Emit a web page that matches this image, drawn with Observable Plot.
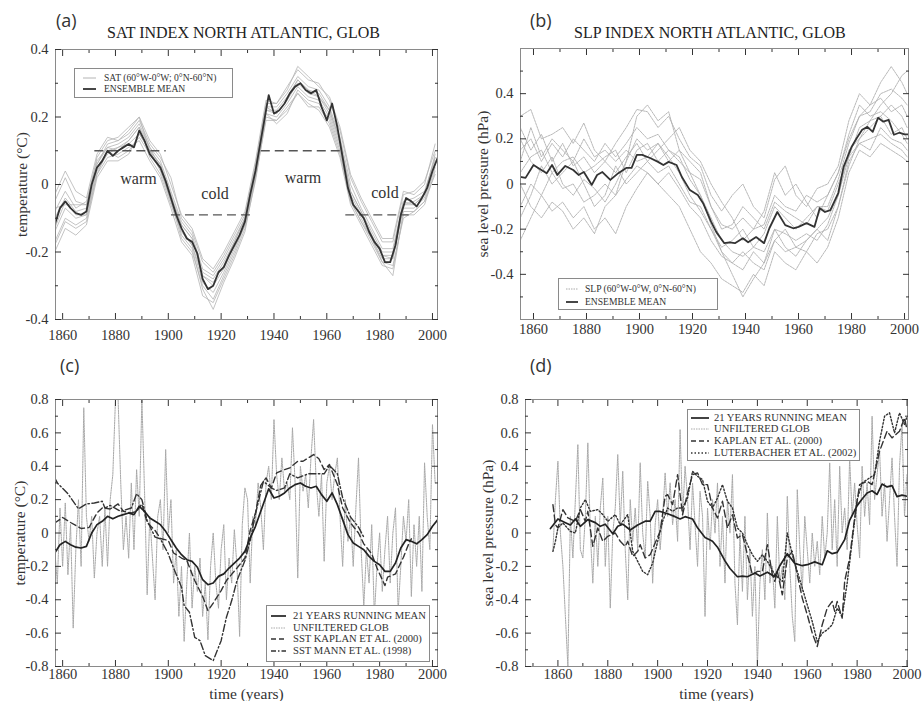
<!DOCTYPE html>
<html><head><meta charset="utf-8">
<script src="https://cdn.jsdelivr.net/npm/d3@7"></script>
<script src="https://cdn.jsdelivr.net/npm/@observablehq/plot@0.6"></script>
<style>
body{margin:0;background:#fff;}
#root{position:relative;width:924px;height:701px;overflow:hidden;font-family:"Liberation Serif","Times New Roman",serif;color:#222;background:#fff;}
.letter{position:absolute;font-family:"Open Sans","DejaVu Sans",sans-serif;font-size:18px;color:#333;line-height:1;}
.title{position:absolute;font-size:16px;line-height:1;white-space:nowrap;color:#222;}
.legend{position:absolute;border:1px solid #8a8a8a;background:#fff;box-sizing:border-box;}
.legend .row{position:absolute;left:0;height:12px;white-space:nowrap;line-height:12px;color:#333;}
.legend svg{position:absolute;top:0;}
.legend span{position:absolute;top:0;}
svg text{font-family:"Liberation Serif","Times New Roman",serif;}
</style></head><body><div id="root"></div>
<script>
// ---------------- DATA ----------------
const xMajorTicks = [1860, 1880, 1900, 1920, 1940, 1960, 1980, 2000];
const xMinorTicks = [1870, 1890, 1910, 1930, 1950, 1970, 1990];
const xMinorTicksD = [1850, 1870, 1890, 1910, 1930, 1950, 1970, 1990];
const yMajorA = [-0.4, -0.2, 0, 0.2, 0.4];
const yMinorA = [-0.3, -0.1, 0.1, 0.3];
const yMajorB = [-0.4, -0.2, 0, 0.2, 0.4];
const yMinorB = [-0.5, -0.3, -0.1, 0.1, 0.3, 0.5];
const yMajorCD = [-0.8, -0.6, -0.4, -0.2, 0, 0.2, 0.4, 0.6, 0.8];
const yMinorCD = [-0.7, -0.5, -0.3, -0.1, 0.1, 0.3, 0.5, 0.7];

// (a) SAT ensemble mean (= 21-year running mean in (c))
const meanAYears = [1857,1859,1861,1863,1865,1867,1869,1871,1873,1875,1877,1879,1881,1883,1885,1887,1889,1891,1893,1895,1897,1899,1901,1903,1905,1907,1909,1911,1913,1915,1917,1919,1921,1923,1925,1927,1929,1931,1933,1935,1937,1938,1940,1942,1944,1946,1948,1950,1952,1954,1956,1958,1960,1962,1964,1966,1968,1970,1972,1974,1976,1978,1980,1982,1984,1986,1988,1990,1992,1994,1996,1998,2000,2002];
const meanAValues = [-0.12,-0.07,-0.05,-0.07,-0.085,-0.09,-0.08,0.0,0.05,0.07,0.10,0.085,0.10,0.11,0.12,0.11,0.16,0.13,0.09,0.07,0.05,0.01,-0.04,-0.09,-0.13,-0.16,-0.17,-0.205,-0.28,-0.31,-0.30,-0.26,-0.245,-0.21,-0.18,-0.15,-0.11,-0.03,0.04,0.13,0.22,0.265,0.21,0.22,0.24,0.27,0.29,0.30,0.28,0.27,0.28,0.23,0.19,0.24,0.17,0.08,-0.01,-0.06,-0.08,-0.10,-0.14,-0.17,-0.19,-0.23,-0.23,-0.18,-0.09,-0.04,-0.05,-0.065,-0.04,-0.01,0.04,0.08];

// (a) SAT ensemble members (every 4 years)
const memberAYears = [1857,1861,1865,1869,1873,1877,1881,1885,1889,1893,1897,1901,1905,1909,1913,1917,1921,1925,1929,1933,1937,1941,1945,1949,1953,1957,1961,1965,1969,1973,1977,1981,1985,1989,1993,1997,2001];
const memberA1 = [-0.17,-0.10,-0.12,-0.10,0.03,0.08,0.09,0.11,0.13,0.07,0.02,-0.07,-0.17,-0.21,-0.33,-0.35,-0.28,-0.21,-0.13,0.01,0.20,0.19,0.22,0.27,0.24,0.22,0.17,0.08,-0.06,-0.12,-0.18,-0.24,-0.25,-0.09,-0.09,-0.06,0.04];
const memberA2 = [-0.05,0.02,-0.05,-0.06,0.08,0.13,0.14,0.17,0.20,0.13,0.09,0.00,-0.09,-0.13,-0.22,-0.25,-0.20,-0.14,-0.08,0.07,0.25,0.24,0.29,0.34,0.31,0.30,0.25,0.16,0.02,-0.05,-0.11,-0.17,-0.17,-0.03,-0.02,0.01,0.10];
const memberA3 = [-0.20,-0.13,-0.15,-0.12,0.02,0.07,0.07,0.09,0.15,0.10,0.06,-0.03,-0.15,-0.19,-0.31,-0.37,-0.29,-0.22,-0.14,0.02,0.21,0.18,0.21,0.28,0.25,0.24,0.19,0.10,-0.05,-0.11,-0.16,-0.23,-0.27,-0.08,-0.08,-0.05,0.05];
const memberA4 = [-0.08,-0.02,-0.07,-0.05,0.07,0.11,0.12,0.14,0.18,0.11,0.07,-0.02,-0.11,-0.15,-0.25,-0.27,-0.22,-0.16,-0.10,0.05,0.23,0.23,0.27,0.32,0.29,0.28,0.23,0.14,0.00,-0.07,-0.13,-0.19,-0.19,-0.05,-0.04,-0.02,0.08];
const memberA5 = [-0.14,-0.07,-0.10,-0.09,0.04,0.09,0.11,0.13,0.17,0.08,0.03,-0.06,-0.14,-0.18,-0.29,-0.32,-0.26,-0.19,-0.12,0.03,0.21,0.20,0.24,0.29,0.26,0.25,0.20,0.11,-0.04,-0.10,-0.16,-0.22,-0.22,-0.07,-0.07,-0.04,0.06];
const memberA6 = [-0.03,0.04,-0.02,-0.04,0.09,0.14,0.13,0.15,0.19,0.12,0.08,0.02,-0.10,-0.14,-0.23,-0.26,-0.21,-0.15,-0.09,0.06,0.24,0.24,0.28,0.35,0.32,0.29,0.26,0.17,0.03,-0.04,-0.10,-0.16,-0.16,-0.02,-0.03,0.00,0.12];
const memberA7 = [-0.18,-0.11,-0.13,-0.11,0.03,0.10,0.08,0.10,0.14,0.09,0.05,-0.05,-0.16,-0.20,-0.30,-0.34,-0.27,-0.20,-0.12,0.02,0.19,0.19,0.23,0.27,0.23,0.23,0.18,0.09,-0.05,-0.11,-0.17,-0.23,-0.24,-0.10,-0.08,-0.05,0.03];
const memberA8 = [-0.10,-0.04,-0.08,-0.07,0.06,0.12,0.13,0.16,0.20,0.10,0.06,-0.03,-0.12,-0.16,-0.26,-0.28,-0.23,-0.17,-0.10,0.05,0.22,0.22,0.26,0.31,0.28,0.27,0.22,0.13,-0.02,-0.08,-0.14,-0.20,-0.20,-0.05,-0.06,-0.03,0.09];
const memberA9 = [-0.13,-0.05,-0.09,-0.09,0.05,0.10,0.11,0.12,0.15,0.10,0.04,-0.05,-0.13,-0.18,-0.27,-0.30,-0.25,-0.18,-0.11,0.04,0.22,0.21,0.25,0.30,0.27,0.26,0.22,0.13,-0.03,-0.09,-0.15,-0.21,-0.21,-0.06,-0.06,-0.03,0.07];
const memberA10 = [-0.07,-0.06,-0.06,-0.06,0.06,0.11,0.10,0.13,0.17,0.11,0.05,-0.04,-0.12,-0.16,-0.27,-0.29,-0.24,-0.17,-0.10,0.04,0.23,0.21,0.25,0.31,0.28,0.26,0.21,0.12,-0.02,-0.08,-0.15,-0.21,-0.22,-0.06,-0.05,-0.03,0.08];

// (a) warm / cold periods
const periodStart = [1872, 1901, 1935, 1967];
const periodEnd = [1899, 1932, 1965, 1991];
const periodLevel = [0.1, -0.09, 0.1, -0.09];
const periodLabel = ["warm", "cold", "warm", "cold"];
const periodLabelYear = [1888.7, 1917.7, 1951, 1982];
const periodLabelValue = [0.018, -0.027, 0.02, -0.024];

// (b) SLP ensemble mean (= 21-year running mean in (d))
const meanBYears = [1855,1857,1860,1863,1865,1867,1869,1872,1875,1877,1879,1882,1884,1886,1889,1892,1895,1897,1899,1901,1904,1907,1909,1911,1914,1916,1919,1922,1924,1927,1929,1932,1934,1936,1939,1941,1944,1947,1949,1952,1955,1958,1960,1963,1966,1968,1970,1972,1975,1977,1980,1982,1984,1986,1988,1990,1992,1994,1996,1998,2000,2002];
const meanBValues = [0.032,0.027,0.084,0.062,0.048,0.084,0.04,0.08,0.062,0.04,0.053,-0.004,0.04,0.053,0.018,0.048,0.071,0.071,0.129,0.129,0.115,0.098,0.084,0.098,0.084,0.031,-0.027,-0.049,-0.085,-0.167,-0.213,-0.262,-0.258,-0.262,-0.24,-0.258,-0.235,-0.262,-0.196,-0.124,-0.182,-0.196,-0.19,-0.173,-0.19,-0.107,-0.124,-0.116,-0.04,0.076,0.164,0.204,0.24,0.253,0.231,0.293,0.276,0.284,0.218,0.227,0.22,0.22];

// (b) SLP ensemble members (every 4 years)
const memberBYears = [1855,1859,1863,1867,1871,1875,1879,1883,1887,1891,1895,1899,1903,1907,1911,1915,1919,1923,1927,1931,1935,1939,1943,1947,1951,1955,1959,1963,1967,1971,1975,1979,1983,1987,1991,1995,1999,2001];
const memberB1 = [0.30,0.33,0.20,0.22,0.25,0.18,0.27,0.15,0.10,0.18,0.25,0.33,0.32,0.25,0.30,0.20,0.12,0.08,-0.05,-0.12,-0.05,0.00,-0.10,-0.15,0.02,0.08,-0.05,-0.10,-0.02,0.00,0.08,0.28,0.40,0.35,0.45,0.52,0.45,0.40];
const memberB2 = [-0.25,-0.15,-0.05,-0.12,-0.08,-0.15,-0.10,-0.20,-0.15,-0.22,-0.10,-0.02,0.05,0.00,-0.05,-0.10,-0.20,-0.30,-0.35,-0.42,-0.45,-0.48,-0.40,-0.45,-0.30,-0.35,-0.38,-0.30,-0.35,-0.28,-0.15,0.05,0.15,0.12,0.18,0.15,0.12,0.10];
const memberB3 = [0.15,0.20,0.10,0.18,0.12,0.20,0.15,0.10,0.18,0.12,0.18,0.25,0.20,0.22,0.15,0.10,0.05,0.02,-0.10,-0.18,-0.20,-0.15,-0.20,-0.18,-0.05,-0.10,-0.12,-0.05,-0.08,-0.05,0.05,0.20,0.30,0.35,0.38,0.32,0.35,0.30];
const memberB4 = [-0.10,0.00,-0.05,0.05,-0.02,0.00,-0.08,-0.05,0.00,-0.05,0.02,0.08,0.05,0.00,0.05,-0.02,-0.10,-0.15,-0.25,-0.32,-0.35,-0.30,-0.35,-0.38,-0.25,-0.30,-0.28,-0.30,-0.22,-0.20,-0.10,0.10,0.18,0.20,0.22,0.18,0.15,0.12];
const memberB5 = [0.05,0.12,0.15,0.05,0.10,0.12,0.05,0.08,0.12,0.15,0.05,0.15,0.18,0.10,0.15,0.12,0.02,-0.05,-0.15,-0.25,-0.30,-0.32,-0.28,-0.22,-0.10,-0.15,-0.20,-0.15,-0.10,-0.12,0.00,0.12,0.25,0.28,0.30,0.35,0.30,0.25];
const memberB6 = [0.20,0.10,0.05,0.12,0.00,-0.05,0.02,-0.02,-0.08,0.00,0.10,0.20,0.15,0.18,0.12,0.05,-0.05,-0.12,-0.20,-0.28,-0.25,-0.20,-0.28,-0.30,-0.20,-0.22,-0.25,-0.22,-0.25,-0.18,-0.05,0.15,0.20,0.25,0.30,0.22,0.25,0.20];
const memberB7 = [-0.15,-0.05,0.08,0.00,0.05,0.10,0.00,-0.10,-0.05,0.08,0.00,0.05,0.10,0.05,0.08,0.00,-0.08,-0.10,-0.20,-0.30,-0.35,-0.38,-0.30,-0.35,-0.25,-0.20,-0.28,-0.25,-0.20,-0.15,-0.05,0.12,0.18,0.15,0.25,0.20,0.18,0.15];
const memberB8 = [0.10,0.25,0.12,0.20,0.15,0.10,0.20,0.12,0.15,0.10,0.15,0.10,0.12,0.18,0.10,0.15,0.10,0.05,-0.10,-0.20,-0.18,-0.10,-0.15,-0.20,-0.08,-0.12,-0.15,-0.18,-0.10,-0.10,0.02,0.18,0.30,0.32,0.40,0.42,0.38,0.35];
const memberB9 = [0.00,-0.10,-0.15,-0.08,-0.12,-0.20,-0.15,-0.22,-0.10,-0.05,0.10,0.30,0.35,0.28,0.32,0.15,0.05,-0.05,-0.18,-0.30,-0.40,-0.50,-0.42,-0.35,-0.20,-0.28,-0.32,-0.25,-0.20,-0.25,-0.10,0.08,0.20,0.28,0.35,0.40,0.48,0.50];
const memberB10 = [0.25,0.15,0.22,0.10,0.18,0.08,0.12,0.05,0.10,0.05,0.12,0.18,0.10,0.15,0.20,0.25,0.15,0.10,0.00,-0.08,-0.15,-0.25,-0.20,-0.12,0.05,-0.05,0.00,-0.08,-0.15,-0.05,0.05,0.22,0.35,0.30,0.32,0.28,0.22,0.18];

// (c) unfiltered GLOB temperature, yearly from 1857
const unfilteredCStart = 1857;
const unfilteredC = [-0.1,-0.3,0.15,-0.2,0.18,-0.25,0.05,-0.57,-0.1,0.2,
 -0.2,0.75,0.1,-0.05,0.1,-0.27,0.0,0.1,-0.2,0.15,
 -0.2,0.2,0.35,0.8,0.8,0.3,-0.1,0.1,-0.15,0.3,
 -0.1,0.38,0.1,0.8,0.25,-0.37,0.1,-0.15,-0.4,0.1,
 0.2,-0.1,0.5,0.0,0.2,-0.3,-0.1,-0.5,-0.2,-0.65,
 -0.3,0.0,-0.45,-0.2,-0.35,-0.15,-0.5,-0.3,-0.64,-0.2,
 0.0,-0.3,-0.45,-0.1,0.05,-0.4,-0.15,-0.3,0.02,-0.2,
 -0.62,0.05,0.27,0.2,-0.3,0.1,0.05,0.3,0.15,-0.1,
 0.3,0.4,0.2,0.68,0.35,0.2,0.45,0.25,0.3,0.2,
 0.63,0.3,-0.27,0.4,0.25,0.35,0.15,0.45,0.68,0.3,
 0.1,0.35,-0.17,0.3,0.4,0.2,0.35,0.45,0.1,-0.2,
 0.2,-0.05,0.1,-0.2,0.15,0.45,-0.1,-0.44,-0.1,-0.3,
 0.05,-0.5,-0.2,0.0,-0.35,-0.1,0.1,-0.3,0.0,0.15,
 -0.47,-0.2,0.1,-0.05,0.2,-0.38,0.05,-0.2,0.1,-0.35,
 0.42,0.1,-0.1,0.65,0.3];

// (c) SST Kaplan et al. (2000)
const kaplanCYears = [1857,1860,1863,1867,1870,1873,1875,1878,1881,1883,1886,1888,1890,1892,1895,1897,1900,1902,1905,1907,1910,1913,1915,1917,1920,1922,1926,1929,1931,1933,1935,1937,1939,1941,1944,1946,1949,1951,1955,1957,1959,1961,1964,1966,1969,1972,1974,1977,1979,1982,1983,1986,1989,1991,1992];
const kaplanCValues = [0.06,0.093,0.063,0.027,0.033,0.12,0.15,0.144,0.174,0.13,0.12,0.13,0.174,0.063,0.015,-0.033,-0.045,-0.12,-0.15,-0.165,-0.285,-0.38,-0.465,-0.42,-0.345,-0.285,-0.21,-0.15,0.015,0.12,0.285,0.33,0.27,0.36,0.38,0.39,0.43,0.43,0.47,0.445,0.38,0.41,0.29,0.15,0.06,0.0,-0.065,-0.125,-0.21,-0.315,-0.265,-0.245,-0.145,-0.065,-0.035];

// (c) SST Mann et al. (1998)
const mannCYears = [1857,1858,1862,1866,1869,1872,1875,1876,1878,1882,1886,1888,1890,1892,1895,1897,1900,1902,1905,1906,1908,1910,1912,1914,1917,1920,1922,1924,1926,1929,1931,1933,1936,1939,1941,1944,1946,1949,1953,1957,1959,1961,1964,1966,1969,1972,1974];
const mannCValues = [0.33,0.30,0.235,0.145,0.174,0.18,0.19,0.15,0.165,0.13,0.15,0.235,0.2,0.075,-0.025,-0.035,-0.125,-0.21,-0.325,-0.435,-0.475,-0.625,-0.645,-0.735,-0.765,-0.645,-0.505,-0.405,-0.285,-0.165,-0.045,0.115,0.31,0.27,0.255,0.27,0.355,0.33,0.355,0.355,0.355,0.405,0.355,0.21,0.095,0.035,-0.025];

// (d) unfiltered GLOB sea level pressure, yearly from 1858
const unfilteredDStart = 1858;
const unfilteredD = [-0.1,0.2,0.43,0.0,-0.2,-0.5,-0.8,0.1,-0.15,0.2,
 0.53,-0.1,-0.15,0.1,0.54,0.0,-0.3,0.1,-0.2,0.15,
 0.33,-0.2,0.1,-0.45,0.0,0.15,0.47,0.05,0.37,-0.1,
 -0.4,0.2,-0.05,0.15,-0.1,0.42,0.0,-0.15,0.31,0.1,
 -0.3,0.05,0.2,-0.1,0.1,0.36,0.1,0.3,0.05,0.2,
 -0.05,0.62,0.1,0.4,0.2,-0.1,0.3,0.05,-0.2,0.25,
 0.1,-0.5,0.15,-0.1,0.2,0.0,0.3,-0.2,0.1,-0.3,
 0.2,0.0,0.35,-0.3,-0.55,0.0,-0.35,0.1,-0.4,-0.1,
 -0.5,-0.2,-0.8,-0.3,-0.1,-0.4,0.12,-0.3,-0.2,-0.45,
 0.1,-0.3,-0.2,-0.4,0.22,-0.2,-0.5,-0.65,0.26,-0.1,
 -0.35,0.1,-0.1,-0.3,0.0,-0.2,-0.05,-0.25,0.1,-0.15,
 0.0,0.42,-0.1,0.2,-0.2,0.4,0.0,0.15,-0.1,0.45,
 0.1,0.3,0.05,-0.15,0.4,0.1,0.3,0.05,0.7,0.2,
 0.35,0.5,0.1,0.3,-0.05,0.2,0.45,0.1,-0.2,0.4,
 0.65,0.1,0.35];

// (d) Kaplan et al. (2000)
const kaplanDYears = [1858,1859,1860,1862,1864,1867,1869,1871,1872,1874,1876,1878,1880,1883,1885,1887,1888,1890,1892,1893,1895,1897,1899,1901,1903,1904,1906,1908,1909,1910,1912,1914,1916,1918,1920,1922,1924,1926,1928,1930,1932,1934,1936,1938,1940,1942,1944,1946,1947,1948,1950,1952,1954,1956,1958,1960,1962,1964,1966,1968,1970,1971,1972,1974,1975,1977,1979,1981,1984,1986,1989,1992,1994,1997,1999,2000];
const kaplanDValues = [0.17,0.05,0.03,0.14,0.09,0.07,0.14,0.07,0.13,-0.08,0.03,-0.05,-0.02,0.0,-0.05,-0.08,-0.05,-0.14,-0.11,-0.07,-0.15,-0.13,-0.06,0.01,0.22,0.23,0.17,0.35,0.23,0.11,0.24,0.35,0.36,0.29,0.29,0.15,0.09,0.19,0.03,0.11,-0.03,-0.01,-0.13,-0.25,-0.23,-0.23,-0.07,-0.25,-0.29,-0.23,-0.37,-0.15,-0.11,-0.25,-0.39,-0.49,-0.6,-0.68,-0.55,-0.45,-0.41,-0.47,-0.41,-0.51,-0.29,-0.15,0.09,0.29,0.31,0.29,0.49,0.61,0.57,0.61,0.69,0.62];

// (d) Luterbacher et al. (2002)
const luterDYears = [1858,1859,1860,1862,1865,1867,1869,1871,1873,1876,1878,1880,1883,1885,1888,1890,1892,1894,1896,1898,1900,1902,1904,1906,1908,1910,1912,1914,1916,1918,1920,1922,1924,1926,1928,1930,1932,1934,1936,1938,1940,1942,1944,1947,1950,1952,1954,1956,1958,1960,1962,1964,1966,1968,1970,1972,1974,1976,1978,1980,1982,1985,1987,1989,1991,1993,1995,1997,1999,2000];
const luterDValues = [-0.11,-0.05,0.03,0.06,0.01,0.0,0.15,0.2,0.13,0.14,0.11,0.07,0.11,0.05,0.11,-0.11,-0.17,-0.23,-0.25,-0.18,-0.05,0.07,0.15,0.13,0.15,0.15,0.21,0.37,0.34,0.32,0.19,0.15,0.21,0.29,0.19,0.15,0.03,0.0,-0.07,-0.13,-0.17,-0.13,-0.17,-0.25,-0.29,0.0,-0.13,-0.23,-0.33,-0.43,-0.53,-0.65,-0.6,-0.58,-0.55,-0.45,-0.5,-0.3,-0.05,0.2,0.3,0.33,0.35,0.55,0.7,0.72,0.6,0.72,0.65,0.7];

// ---------------- BUILD ----------------
const zip = (years, values, extra = {}) => years.map((y, i) => ({year: y, value: values[i], ...extra})).filter(d => d.value !== undefined);
const yearly = (start, values) => values.map((v, i) => ({year: start + i, value: v}));

const meanA = zip(meanAYears, meanAValues);
const membersA = [memberA1, memberA2, memberA3, memberA4, memberA5, memberA6, memberA7, memberA8, memberA9, memberA10]
  .flatMap((vals, k) => zip(memberAYears, vals, {member: k}));
const meanB = zip(meanBYears, meanBValues);
const membersB = [memberB1, memberB2, memberB3, memberB4, memberB5, memberB6, memberB7, memberB8, memberB9, memberB10]
  .flatMap((vals, k) => zip(memberBYears, vals, {member: k}));
const periods = periodStart.map((s, i) => ({start: s, end: periodEnd[i], level: periodLevel[i]}));
const periodTexts = periodLabel.map((t, i) => ({text: t, year: periodLabelYear[i], value: periodLabelValue[i]}));
const unfC = yearly(unfilteredCStart, unfilteredC);
const kapC = zip(kaplanCYears, kaplanCValues);
const mannC = zip(mannCYears, mannCValues);
const unfD = yearly(unfilteredDStart, unfilteredD);
const kapD = zip(kaplanDYears, kaplanDValues);
const lutD = zip(luterDYears, luterDValues);
const meanD = meanB.filter(d => d.year >= 1857);

const serif = '"Liberation Serif","Times New Roman",serif';
const fmtY = d => d === 0 ? "0" : String(d);
const blank = () => "";

function panel(cfg) {
  const {width, height, margin, xDomain, yDomain, xMinor, yMajor, yMinor, yLabel, yLabelOffset, xLabel, xPad, marks} = cfg;
  const tickFont = {fontFamily: serif, fontSize: 14.5};
  const labelFont = {fontFamily: serif, fontSize: 15.5};
  const axes = [
    Plot.frame({stroke: "#8a8a8a", strokeWidth: 1}),
    Plot.axisX({anchor: "bottom", ticks: xMajorTicks, tickSize: -6, tickPadding: xPad, tickFormat: d => String(d), label: null, ...tickFont}),
    Plot.axisX({anchor: "bottom", ticks: xMinor, tickSize: -3, tickFormat: blank, label: null}),
    Plot.axisX({anchor: "top", ticks: xMajorTicks, tickSize: -6, tickFormat: blank, label: null}),
    Plot.axisX({anchor: "top", ticks: xMinor, tickSize: -3, tickFormat: blank, label: null}),
    Plot.axisY({anchor: "left", ticks: yMajor, tickSize: -6, tickPadding: 13, tickFormat: fmtY, label: null, ...tickFont}),
    Plot.axisY({anchor: "left", ticks: yMinor, tickSize: -3, tickFormat: blank, label: null}),
    Plot.axisY({anchor: "right", ticks: yMajor, tickSize: -6, tickFormat: blank, label: null}),
    Plot.axisY({anchor: "right", ticks: yMinor, tickSize: -3, tickFormat: blank, label: null}),
    Plot.axisY({anchor: "left", ticks: yMajor, tickSize: 0, tickFormat: blank,
      label: yLabel, labelAnchor: "center", labelOffset: yLabelOffset, labelArrow: "none", ...labelFont})
  ];
  if (xLabel) axes.push(Plot.axisX({anchor: "bottom", ticks: xMajorTicks, tickSize: 0, tickFormat: blank,
      label: xLabel, labelAnchor: "center", labelOffset: 32, labelArrow: "none", ...labelFont}));
  return Plot.plot({
    width, height,
    marginTop: margin[0], marginRight: margin[1], marginBottom: margin[2], marginLeft: margin[3],
    style: {fontFamily: serif, fontSize: "14px", background: "transparent", color: "#333", overflow: "visible"},
    x: {domain: xDomain},
    y: {domain: yDomain},
    marks: [...marks, ...axes]
  });
}

const root = document.getElementById("root");
function place(node, left, top) {
  node.style.position = "absolute"; node.style.left = left + "px"; node.style.top = top + "px";
  root.appendChild(node);
}

// (a)
place(panel({
  width: 462, height: 350, margin: [49, 25, 31, 55],
  xDomain: [1857.3, 2001.9], yDomain: [-0.4, 0.4],
  xMinor: xMinorTicks, yMajor: yMajorA, yMinor: yMinorA, xPad: 16,
  yLabel: "temperature (°C)", yLabelOffset: 40,
  marks: [
    Plot.line(membersA, {x: "year", y: "value", z: "member", stroke: "#b4b4b4", strokeWidth: 0.8, clip: true}),
    Plot.link(periods, {x1: "start", x2: "end", y1: "level", y2: "level", stroke: "#555", strokeWidth: 1.4, strokeDasharray: "9,5"}),
    Plot.line(meanA, {x: "year", y: "value", stroke: "#333", strokeWidth: 1.8, clip: true}),
    Plot.text(periodTexts, {x: "year", y: "value", text: "text", fontSize: 16, fill: "#333", fontFamily: serif})
  ]
}), 0, 0);

// (b)
place(panel({
  width: 462, height: 350, margin: [48, 16, 31, 58],
  xDomain: [1855.1, 2001.5], yDomain: [-0.6, 0.6],
  xMinor: xMinorTicks, yMajor: yMajorB, yMinor: yMinorB, xPad: 10,
  yLabel: "sea level pressure (hPa)", yLabelOffset: 44,
  marks: [
    Plot.line(membersB, {x: "year", y: "value", z: "member", stroke: "#b0b0b0", strokeWidth: 0.9, strokeDasharray: "2,1", clip: true}),
    Plot.line(meanB, {x: "year", y: "value", stroke: "#333", strokeWidth: 1.8, clip: true})
  ]
}), 462, 0);

// (c)
place(panel({
  width: 462, height: 351, margin: [49, 25, 35, 55],
  xDomain: [1857.3, 2001.9], yDomain: [-0.8, 0.8],
  xMinor: xMinorTicks, yMajor: yMajorCD, yMinor: yMinorCD, xPad: 8,
  yLabel: "temperature (°C)", yLabelOffset: 42, xLabel: "time (years)",
  marks: [
    Plot.line(unfC, {x: "year", y: "value", stroke: "#a8a8a8", strokeWidth: 1, strokeDasharray: "1.5,1", clip: true}),
    Plot.line(kapC, {x: "year", y: "value", stroke: "#333", strokeWidth: 1.4, strokeDasharray: "6,3.5", clip: true}),
    Plot.line(mannC, {x: "year", y: "value", stroke: "#333", strokeWidth: 1.4, strokeDasharray: "7,2.5,1.5,2.5", clip: true}),
    Plot.line(meanA, {x: "year", y: "value", stroke: "#222", strokeWidth: 1.7, clip: true})
  ]
}), 0, 350);

// (d)
place(panel({
  width: 462, height: 351, margin: [49, 17, 35, 63],
  xDomain: [1847, 2000.2], yDomain: [-0.8, 0.8],
  xMinor: xMinorTicksD, yMajor: yMajorCD, yMinor: yMinorCD, xPad: 8,
  yLabel: "sea level pressure (hPa)", yLabelOffset: 44, xLabel: "time (years)",
  marks: [
    Plot.line(unfD, {x: "year", y: "value", stroke: "#a8a8a8", strokeWidth: 1, strokeDasharray: "1.5,1", clip: true}),
    Plot.line(kapD, {x: "year", y: "value", stroke: "#333", strokeWidth: 1.4, strokeDasharray: "7,3.5", clip: true}),
    Plot.line(lutD, {x: "year", y: "value", stroke: "#333", strokeWidth: 1.4, strokeDasharray: "1.5,2", clip: true}),
    Plot.line(meanD, {x: "year", y: "value", stroke: "#222", strokeWidth: 1.7, clip: true})
  ]
}), 462, 350);

// ---------------- TEXT: letters, titles, legends ----------------
function addDiv(cls, text, left, top) {
  const d = document.createElement("div");
  d.className = cls; d.textContent = text;
  d.style.left = left + "px"; d.style.top = top + "px";
  root.appendChild(d);
  return d;
}
addDiv("letter", "(a)", 56, 11);
addDiv("letter", "(b)", 530, 11);
addDiv("letter", "(c)", 60, 356);
addDiv("letter", "(d)", 530, 356);
addDiv("title", "SAT INDEX NORTH ATLANTIC, GLOB", 107, 25);
addDiv("title", "SLP INDEX NORTH ATLANTIC, GLOB", 574, 25);

function legend(left, top, width, height, sample0, sample1, textX, fontSize, rows) {
  const box = document.createElement("div");
  box.className = "legend";
  Object.assign(box.style, {left: left + "px", top: top + "px", width: width + "px", height: height + "px"});
  rows.forEach(r => {
    const row = document.createElement("div");
    row.className = "row";
    row.style.top = (r.y - 6) + "px";
    row.style.width = width + "px";
    row.style.fontSize = fontSize + "px";
    const ns = "http://www.w3.org/2000/svg";
    const svg = document.createElementNS(ns, "svg");
    svg.setAttribute("width", sample1 - sample0); svg.setAttribute("height", 12);
    svg.style.left = sample0 + "px";
    const ln = document.createElementNS(ns, "line");
    ln.setAttribute("x1", 0); ln.setAttribute("x2", sample1 - sample0);
    ln.setAttribute("y1", 6); ln.setAttribute("y2", 6);
    ln.setAttribute("stroke", r.stroke); ln.setAttribute("stroke-width", r.width);
    if (r.dash) ln.setAttribute("stroke-dasharray", r.dash);
    svg.appendChild(ln);
    row.appendChild(svg);
    const sp = document.createElement("span");
    sp.style.left = textX + "px";
    sp.textContent = r.label;
    row.appendChild(sp);
    box.appendChild(row);
  });
  root.appendChild(box);
}
legend(74, 68, 159, 30, 8, 21, 29, 9.6, [
  {y: 9, label: "SAT (60°W-0°W; 0°N-60°N)", stroke: "#b4b4b4", width: 1},
  {y: 20, label: "ENSEMBLE MEAN", stroke: "#333", width: 1.8}
]);
legend(558, 278, 160, 32, 7, 19, 26, 9.6, [
  {y: 10, label: "SLP (60°W-0°W, 0°N-60°N)", stroke: "#aaa", width: 1, dash: "1.5,1"},
  {y: 23, label: "ENSEMBLE MEAN", stroke: "#333", width: 1.8}
]);
legend(266, 605, 164, 57, 4, 19, 26, 10.6, [
  {y: 10, label: "21 YEARS RUNNING MEAN", stroke: "#222", width: 1.7},
  {y: 22, label: "UNFILTERED GLOB", stroke: "#aaa", width: 1, dash: "1.5,1"},
  {y: 33, label: "SST KAPLAN ET AL. (2000)", stroke: "#333", width: 1.4, dash: "5,3"},
  {y: 45, label: "SST MANN ET AL. (1998)", stroke: "#333", width: 1.4, dash: "5,2,1.5,2"}
]);
legend(687, 409, 173, 52, 3, 21, 26, 10.6, [
  {y: 8, label: "21 YEARS RUNNING MEAN", stroke: "#222", width: 1.7},
  {y: 19, label: "UNFILTERED GLOB", stroke: "#aaa", width: 1, dash: "1.5,1"},
  {y: 31, label: "KAPLAN ET AL. (2000)", stroke: "#333", width: 1.4, dash: "5,3"},
  {y: 43, label: "LUTERBACHER ET AL. (2002)", stroke: "#333", width: 1.4, dash: "1.5,2"}
]);
</script></body></html>
